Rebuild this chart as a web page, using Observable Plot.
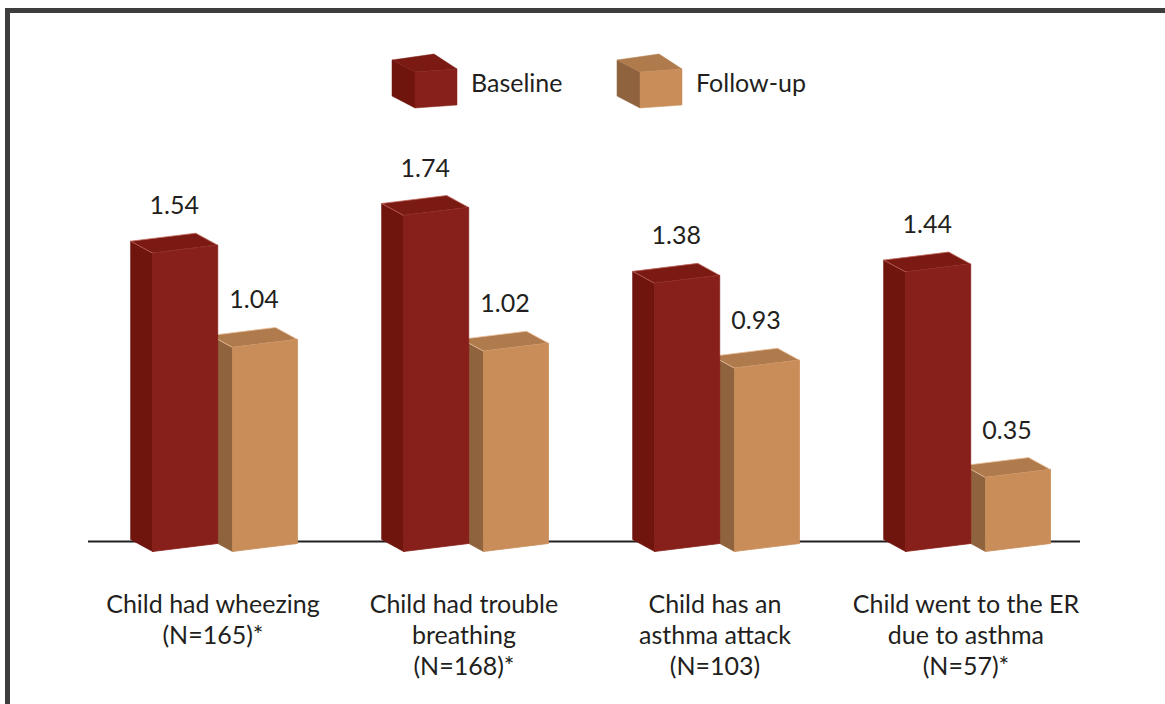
<!DOCTYPE html>
<html>
<head>
<meta charset="utf-8">
<script src="https://cdn.jsdelivr.net/npm/d3@7"></script>
<script src="https://cdn.jsdelivr.net/npm/@observablehq/plot@0.6"></script>
<style>
  html, body { margin: 0; padding: 0; background: #fff; }
  #page { position: relative; width: 1165px; height: 704px; overflow: hidden; font-family: Lato, "Liberation Sans", sans-serif; }
  #frame { position: absolute; left: 5px; top: 8px; width: 1300px; height: 900px; box-sizing: border-box;
           border-left: 5px solid #3d3d3d; border-top: 5px solid #3d3d3d; pointer-events: none; }
  #legend { position: relative; width: 1165px; height: 120px; }
  #legend svg { display: block; }
  #chart svg { display: block; }
</style>
</head>
<body>
<div id="page">
  <div id="legend"></div>
  <div id="chart"></div>
  <div id="frame"></div>
</div>
<script>
// ---- data ----
const categories = [
  "Child had wheezing\n(N=165)*",
  "Child had trouble\nbreathing\n(N=168)*",
  "Child has an\nasthma attack\n(N=103)",
  "Child went to the ER\ndue to asthma\n(N=57)*"
];
const seriesNames = ["Baseline", "Follow-up"];
const baseline = [1.54, 1.74, 1.38, 1.44];
const followUp = [1.04, 1.02, 0.93, 0.35];

// ---- styles ----
const palette = {
  "Baseline":  {front: "#87201a", side: "#70140e", top: "#7a1a12", edge: "#c0675e"},
  "Follow-up": {front: "#c98d5a", side: "#8f633d", top: "#b07b4c", edge: "#ecc39f"}
};
const textColor = "#231f20";
const fontSize = 25;

// geometry (in scale units): face width, depth offsets, front slant, series offsets
const W = 0.259, DX = -0.0876, DY = 0.0637, SL = 0.0424;
const seriesOffset = {"Baseline": 0.2, "Follow-up": 0.518};

// ---- build table ----
const rows = [];
categories.forEach((c, i) => {
  rows.push({cat: c, i, series: "Follow-up", value: followUp[i]});
  rows.push({cat: c, i, series: "Baseline", value: baseline[i]});
});

const pts = [];
rows.forEach((r, k) => {
  const x0 = r.i + seriesOffset[r.series];
  const v = r.value;
  const p = palette[r.series];
  const faces = [
    {name: "side", fill: p.side, stroke: p.side, poly: [[x0, -SL], [x0, v], [x0 + DX, v + DY], [x0 + DX, -SL + DY]]},
    {name: "top", fill: p.top, stroke: p.edge, poly: [[x0, v], [x0 + W, v + SL], [x0 + W + DX, v + SL + DY], [x0 + DX, v + DY]]},
    {name: "front", fill: p.front, stroke: p.front, poly: [[x0, -SL], [x0 + W, 0], [x0 + W, v + SL], [x0, v]]}
  ];
  faces.forEach(f => {
    const id = `${k}-${f.name}`;
    [...f.poly, f.poly[0]].forEach(([x, y]) => pts.push({id, x, y, fill: f.fill, stroke: f.stroke}));
  });
});

// ---- legend ----
(function legend() {
  const ns = "http://www.w3.org/2000/svg";
  const svg = document.createElementNS(ns, "svg");
  svg.setAttribute("width", 1165);
  svg.setAttribute("height", 120);
  const starts = [392, 617];
  seriesNames.forEach((s, j) => {
    const x = starts[j], p = palette[s];
    const faces = [
      [p.side, [[0, 6], [23, 18], [23, 54], [0, 42]]],
      [p.top, [[0, 6], [42, 0], [65, 15], [23, 18]]],
      [p.front, [[23, 18], [65, 15], [65, 51], [23, 54]]]
    ];
    faces.forEach(([col, poly]) => {
      const el = document.createElementNS(ns, "polygon");
      el.setAttribute("points", poly.map(([a, b]) => `${x + a},${54 + b}`).join(" "));
      el.setAttribute("fill", col);
      el.setAttribute("stroke", col);
      el.setAttribute("stroke-width", 0.5);
      svg.appendChild(el);
    });
    const t = document.createElementNS(ns, "text");
    t.setAttribute("x", x + 79);
    t.setAttribute("y", 92);
    t.setAttribute("fill", textColor);
    t.setAttribute("font-size", fontSize);
    t.setAttribute("font-family", "Lato, 'Liberation Sans', sans-serif");
    t.textContent = s;
    svg.appendChild(t);
  });
  document.getElementById("legend").appendChild(svg);
})();

// ---- chart ----
const chart = Plot.plot({
  width: 1165,
  height: 584,
  marginLeft: 88,
  marginRight: 85,
  marginTop: 0,
  marginBottom: 0,
  style: {fontFamily: "Lato, 'Liberation Sans', sans-serif", color: textColor, background: "white", overflow: "visible"},
  x: {type: "linear", domain: [0, 4], range: [102, 1106], axis: null},
  y: {type: "linear", domain: [0, 2], range: [423, 46], axis: null},
  color: {type: "identity"},
  marks: [
    Plot.ruleY([0], {stroke: textColor, strokeWidth: 2, dy: -2}),
    Plot.line(pts, {x: "x", y: "y", z: "id", fill: "fill", stroke: "stroke", strokeWidth: 0.8, strokeLinejoin: "miter", curve: "linear"}),
    Plot.text(rows, {
      x: d => d.i + seriesOffset[d.series] + (W + DX) / 2,
      y: "value",
      text: d => d.value.toFixed(2),
      dy: -47,
      fontSize,
      fill: textColor
    }),
    Plot.text(categories, {
      x: (d, i) => i + 0.44,
      text: d => d,
      frameAnchor: "bottom",
      lineAnchor: "top",
      lineHeight: 1.24,
      dy: -114,
      fontSize,
      fill: textColor,
      textAnchor: "middle"
    })
  ]
});
document.getElementById("chart").appendChild(chart);
</script>
</body>
</html>
